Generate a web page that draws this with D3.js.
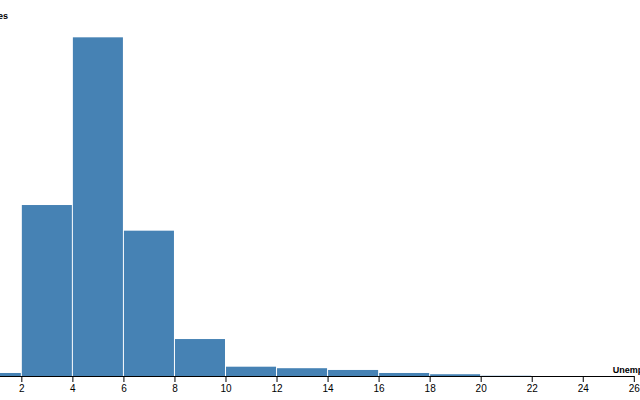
<!DOCTYPE html>
<html>
<head>
<meta charset="utf-8">
<script src="https://cdn.jsdelivr.net/npm/d3@7"></script>
<style>
  body { margin: 0; background: #fff; }
  svg { display: block; font-family: "Liberation Sans", Arial, sans-serif; }
</style>
</head>
<body>
<svg id="chart" width="640" height="400"></svg>
<script>
// bins of unemployment rate (%) and how many counties fall in each
const binStarts = [0, 2, 4, 6, 8, 10, 12, 14, 16, 18, 20, 22, 24];
const binEnds   = [2, 4, 6, 8, 10, 12, 14, 16, 18, 20, 22, 24, 26];
const counts    = [12, 680, 1347, 578, 147, 37, 31, 24, 12, 7, 1, 0, 0];
const xTicks    = [0, 2, 4, 6, 8, 10, 12, 14, 16, 18, 20, 22, 24, 26];

const w = 640, h = 400;
const svg = d3.select("#chart");

// the plot is shifted so zero sits just off the left edge
const x = d3.scaleLinear().domain([0, 26]).range([-29.7, 633.8]);
const y = d3.scaleLinear().domain([0, 1400]).range([376, 24]);

const bins = binStarts.map((s, i) => ({x0: s, x1: binEnds[i], n: counts[i]}));

svg.append("g")
  .attr("fill", "steelblue")
  .selectAll("rect")
  .data(bins)
  .join("rect")
  .attr("x", d => x(d.x0) + 0.5)
  .attr("width", d => Math.max(0, x(d.x1) - x(d.x0) - 1))
  .attr("y", d => y(d.n))
  .attr("height", d => y(0) - y(d.n));

// x axis
const gx = svg.append("g")
  .attr("transform", "translate(0," + y(0) + ")")
  .call(d3.axisBottom(x).tickValues(xTicks).tickSizeOuter(0))
  .attr("font-family", null);
gx.selectAll("text").attr("fill", "#000");

gx.append("text")
  .attr("x", 612.7)
  .attr("y", -3)
  .attr("fill", "#000")
  .attr("font-size", 9)
  .attr("font-weight", "bold")
  .attr("text-anchor", "start")
  .text("Unemployment (%) →");

// y label (the y axis itself is off-canvas)
svg.append("text")
  .attr("x", 8)
  .attr("y", 19)
  .attr("fill", "#000")
  .attr("font-size", 9)
  .attr("font-weight", "bold")
  .attr("text-anchor", "end")
  .text("↑ Counties");
</script>
</body>
</html>
